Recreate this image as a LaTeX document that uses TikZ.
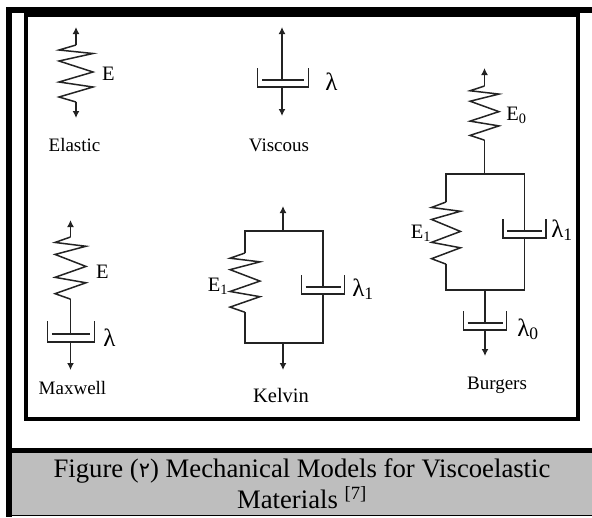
\documentclass[tikz,border=0pt]{standalone}
\usepackage{fontspec}
\usetikzlibrary{arrows.meta}
\setmainfont{Liberation Serif}
\newfontfamily\arabicfont[Script=Arabic]{DejaVu Sans}
\TeXXeTstate=1
\definecolor{capgray}{RGB}{190,190,190}
\definecolor{wire}{RGB}{35,35,35}
\tikzset{
  name text/.style={inner sep=0pt,anchor=base,font=\fontsize{19}{19}\selectfont},
  sym text/.style={inner sep=0pt,anchor=base,font=\fontsize{20.5}{21}\selectfont},
  lam text/.style={inner sep=0pt,anchor=base,font=\fontsize{25}{25}\selectfont},
  cap text/.style={inner sep=0pt,anchor=base,font=\fontsize{26.7}{27}\selectfont},
  spring/.pic={
    \coordinate (-top) at (0,0);
    \coordinate (-bot) at (0,57);
    \draw [wire,line width=1.5pt] (-top) -- (-17,5) -- (17,8.5) -- (-17,16) -- (17,27) -- (-17,37) -- (17,42) -- (-17,52) -- (-bot);
  },
  dashpot/.pic={
    \coordinate (-top) at (0,12);
    \coordinate (-bot) at (0,19);
    \draw [wire,line width=1.5pt] (-21.5,0) -- (-21.5,19) -- (21.5,19) -- (21.5,0);
    \draw [wire,line width=1.5pt] (-17.5,12) -- (17.5,12);
  }
}
\begin{document}
\begin{tikzpicture}[x=1pt,y=-1pt,>={Latex[length=7pt,width=7pt]}]
\tikzstyle{rod}=[wire,line width=1.5pt]
\useasboundingbox (0,0) rectangle (592,517);
\fill [capgray] (12,452) rectangle (592,515);
\fill [black] (6,7) rectangle (592,13);
\fill [black] (6,7) rectangle (12,517);
\fill [black] (6,448) rectangle (592,453);
\fill [black] (6,514.5) rectangle (592,516);
\draw [black,line width=4pt] (26,15) rectangle (578,419);
\fill [black] (24,13) rectangle (28,17);

\coordinate (elastic up) at (76,27);
\coordinate (elastic down) at (76,118);
\pic (sElastic) at (76,45) {spring};
\draw [rod,->] (sElastic-top) -- (elastic up);
\draw [rod,->] (sElastic-bot) -- (elastic down);
\node [sym text] (lblElasticE) at (108.5,80) {E};
\node [name text] (lblElastic) at (74.5,151) {Elastic};

\coordinate (viscous up) at (282,27);
\coordinate (viscous down) at (282,116);
\pic (dViscous) at (283,68) [xscale=1.18] {dashpot};
\draw [rod,->] (282,81) -- (viscous up);
\draw [rod,->] (282,88) -- (viscous down);
\node [lam text] (lblViscousL) at (331.5,90) {λ};
\node [name text] (lblViscous) at (279,151) {Viscous};

\coordinate (maxwell up) at (70.5,220);
\coordinate (maxwell down) at (70.5,370);
\pic (sMaxwell) at (70.5,237) [xscale=0.91,yscale=1.09] {spring};
\pic (dMaxwell) at (71,321) [xscale=1.1,yscale=1.1] {dashpot};
\draw [rod,->] (sMaxwell-top) -- (maxwell up);
\draw [rod] (sMaxwell-bot) -- (70.5,333);
\draw [rod,->] (70.5,342) -- (maxwell down);
\node [sym text] (lblMaxwellE) at (102.5,278) {E};
\node [lam text] (lblMaxwellL) at (109.5,346) {λ};
\node [name text] (lblMaxwell) at (72.5,394) {Maxwell};

\coordinate (kelvin up) at (283,206);
\coordinate (kelvin down) at (283,370);
\coordinate (kelvin tl) at (245,231);
\coordinate (kelvin tr) at (323,231);
\coordinate (kelvin bl) at (245,343);
\coordinate (kelvin br) at (323,343);
\pic (sKelvin) at (245,253) [xscale=0.88,yscale=1.04] {spring};
\pic (dKelvin) at (323,275) {dashpot};
\draw [rod,->] (283,231) -- (kelvin up);
\draw [rod,->] (283,343) -- (kelvin down);
\draw [rod] (sKelvin-top) -- (kelvin tl) -- (kelvin tr) -- (dKelvin-top);
\draw [rod] (sKelvin-bot) -- (kelvin bl) -- (kelvin br) -- (dKelvin-bot);
\node [sym text] (lblKelvinE) at (218,291) {E\textsubscript{1}};
\node [lam text] (lblKelvinL) at (363,296) {λ\textsubscript{1}};
\node [name text,font=\fontsize{20.5}{21}\selectfont] (lblKelvin) at (281,402) {Kelvin};

\coordinate (burgers up) at (484.5,68);
\coordinate (burgers down) at (485,356);
\coordinate (burgers tl) at (446,174);
\coordinate (burgers tm) at (484.5,174);
\coordinate (burgers tr) at (524.5,174);
\coordinate (burgers bl) at (446,290);
\coordinate (burgers bm) at (485,290);
\coordinate (burgers br) at (524.5,290);
\pic (sBurgersA) at (484.5,86) [xscale=0.85,yscale=0.95] {spring};
\pic (sBurgersB) at (446,202) [xscale=0.85,yscale=1.09] {spring};
\pic (dBurgersA) at (524.5,219) {dashpot};
\pic (dBurgersB) at (485,311) {dashpot};
\draw [rod,->] (sBurgersA-top) -- (burgers up);
\draw [rod] (sBurgersA-bot) -- (burgers tm);
\draw [rod] (sBurgersB-top) -- (burgers tl) -- (burgers tr) -- (dBurgersA-top);
\draw [rod] (sBurgersB-bot) -- (burgers bl) -- (burgers br) -- (dBurgersA-bot);
\draw [rod] (burgers bm) -- (dBurgersB-top);
\draw [rod,->] (dBurgersB-bot) -- (burgers down);
\node [sym text] (lblBurgersE) at (516.5,120) {E\textsubscript{0}};
\node [sym text] (lblBurgersF) at (421,238) {E\textsubscript{1}};
\node [lam text] (lblBurgersL) at (562,237) {λ\textsubscript{1}};
\node [lam text] (lblBurgersM) at (528,336) {λ\textsubscript{0}};
\node [name text] (lblBurgers) at (497,389) {Burgers};

\node [cap text] (capA) at (302,477) {Figure ({\arabicfont\fontsize{21}{21}\selectfont\beginR ٢\endR}) Mechanical Models for Viscoelastic};
\node [cap text] (capB) at (302,508.5) {Materials \textsuperscript{[7]}};
\end{tikzpicture}
\end{document}
